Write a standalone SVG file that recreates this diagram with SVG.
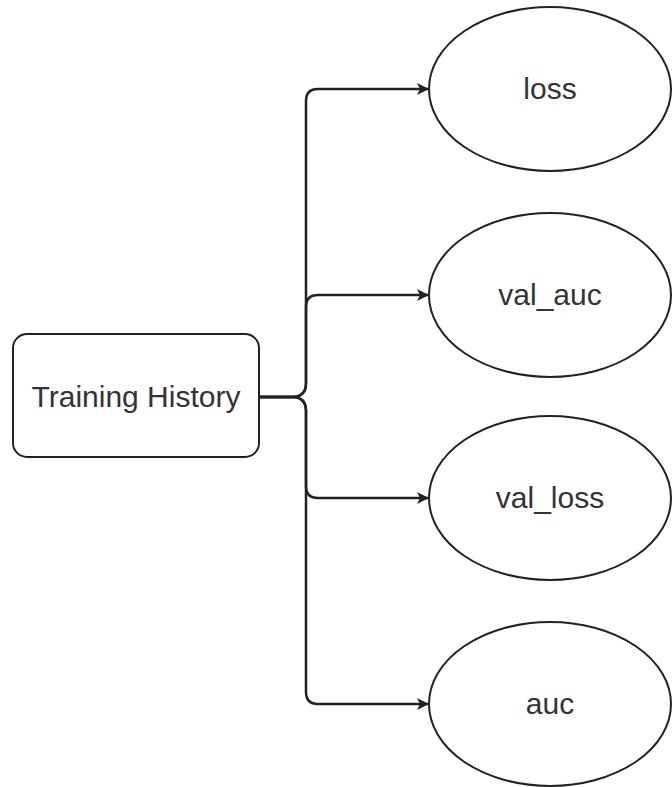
<svg xmlns="http://www.w3.org/2000/svg" width="672" height="787" viewBox="0 0 672 787">
  <style>
    .node { fill: #ffffff; stroke: #222222; stroke-width: 2; }
    .label { font-family: "Liberation Sans", Arial, sans-serif; font-size: 30px; fill: #333333; text-anchor: middle; }
    .edge { fill: none; stroke: #222222; stroke-width: 2.5; marker-end: url(#arrow); }
  </style>
  <defs>
    <marker id="arrow" viewBox="0 0 12 12" refX="11" refY="6" markerWidth="12" markerHeight="12" markerUnits="userSpaceOnUse" orient="auto">
      <path d="M0,0 L12,6 L0,12 L3,6 Z" fill="#222222"/>
    </marker>
  </defs>
  <rect width="672" height="787" fill="#ffffff"/>

  <g id="connectors">
    <path class="edge" d="M259,397 H292 Q306,397 306,383 V101 Q306,89 318,89 H428"/>
    <path class="edge" d="M259,397 H292 Q306,397 306,383 V307 Q306,295 318,295 H428"/>
    <path class="edge" d="M259,397 H292 Q306,397 306,411 V486 Q306,498 318,498 H428"/>
    <path class="edge" d="M259,397 H292 Q306,397 306,411 V692 Q306,704 318,704 H428"/>
  </g>

  <g id="training-history">
    <rect class="node" x="13" y="334" width="246" height="123" rx="14" ry="14"/>
    <text class="label" x="136" y="407">Training History</text>
  </g>

  <g id="loss">
    <ellipse class="node" cx="550" cy="89" rx="121" ry="82"/>
    <text class="label" x="550" y="99">loss</text>
  </g>

  <g id="val-auc">
    <ellipse class="node" cx="550" cy="295" rx="121" ry="82"/>
    <text class="label" x="550" y="305">val_auc</text>
  </g>

  <g id="val-loss">
    <ellipse class="node" cx="550" cy="498" rx="121" ry="82"/>
    <text class="label" x="550" y="508">val_loss</text>
  </g>

  <g id="auc">
    <ellipse class="node" cx="550" cy="704" rx="121" ry="82"/>
    <text class="label" x="550" y="714">auc</text>
  </g>
</svg>
